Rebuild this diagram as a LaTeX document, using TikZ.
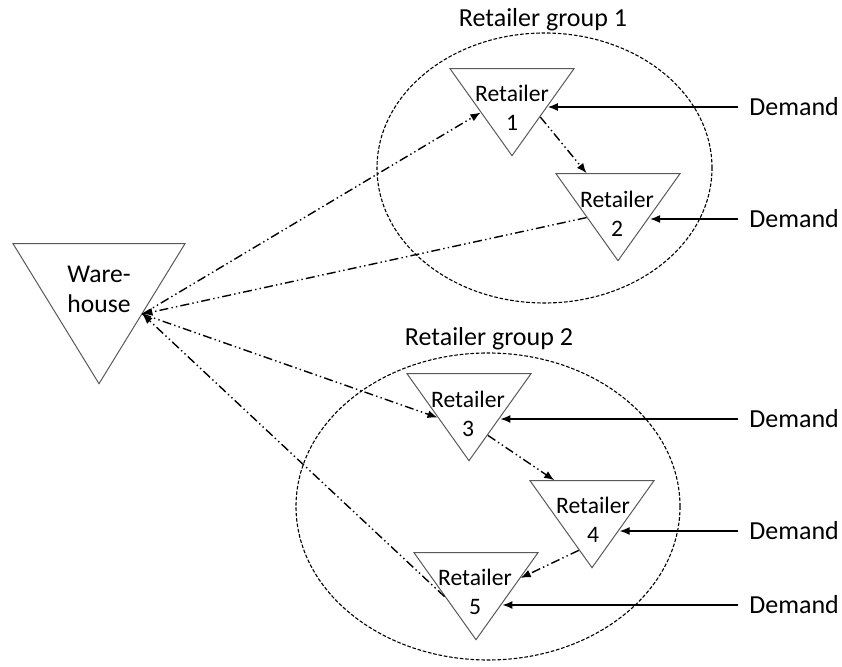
\documentclass[tikz,border=0pt]{standalone}
\usepackage{fontspec}
\setmainfont{Carlito}
\usetikzlibrary{positioning, shapes.geometric, arrows.meta, calc}
\begin{document}
\begin{tikzpicture}[x=0.5pt, y=-0.5pt]
	\tikzstyle{shop} = [isosceles triangle, isosceles triangle stretches, shape border rotate=-90, draw=black!65, line width=0.5pt, inner sep=0pt, minimum width=62pt, minimum height=43.5pt, anchor=apex]
	\tikzstyle{shoptext} = [align=center, inner sep=0pt, font=\fontsize{11.8}{14.5}\selectfont]
	\tikzstyle{group} = [ellipse, draw, dash pattern=on 1.8pt off 0.9pt, line width=0.55pt, inner sep=0pt]
	\tikzstyle{grouptext} = [font=\fontsize{13}{15}\selectfont]
	\tikzstyle{demand} = [font=\fontsize{13}{15}\selectfont, anchor=west, inner sep=5.5pt]
	\tikzstyle{flow} = [-{Latex[length=5pt, width=4pt]}, line width=0.7pt, dash pattern=on 4.5pt off 1.6pt on 0.7pt off 1.6pt on 0.7pt off 1.6pt]
	\tikzstyle{need} = [-{Latex[length=5pt, width=4pt]}, line width=0.65pt]

	\useasboundingbox (0,0) rectangle (842,667);

	\node [group, minimum width=167.5pt, minimum height=135pt] (grp1) at (544.5,168) {};
	\node [group, minimum width=192pt, minimum height=153.5pt] (grp2) at (488,506.5) {};
	\node [grouptext] (grp1name) at (543,20) {Retailer group 1};
	\node [grouptext] (grp2name) at (489,339) {Retailer group 2};

	\node [shop, minimum width=86pt, minimum height=70pt] (wh) at (99,385) {};
	\node [shop] (r1) at (512,157) {};
	\node [shop] (r2) at (618,262) {};
	\node [shop] (r3) at (469,462) {};
	\node [shop] (r4) at (592,569) {};
	\node [shop] (r5) at (476,641) {};

	\node [shoptext, font=\fontsize{12.8}{15}\selectfont] (whname) at (99,289) {Ware-\\house};
	\node [shoptext] (r1name) at (512,108) {Retailer\\1};
	\node [shoptext] (r2name) at (617,213.5) {Retailer\\2};
	\node [shoptext] (r3name) at (468,413.5) {Retailer\\3};
	\node [shoptext] (r4name) at (593,519.5) {Retailer\\4};
	\node [shoptext] (r5name) at (475,591.5) {Retailer\\5};

	\node [demand] (d1) at (738,107) {Demand};
	\node [demand] (d2) at (738,219) {Demand};
	\node [demand] (d3) at (738,419) {Demand};
	\node [demand] (d4) at (738,531) {Demand};
	\node [demand] (d5) at (738,605) {Demand};

	\coordinate (e1) at ($(r1.left corner)!0.43!(r1.apex)$);
	\coordinate (e2) at ($(r2.left corner)!0.49!(r2.apex)$);
	\coordinate (e3) at ($(r3.left corner)!0.5!(r3.apex)$);
	\coordinate (e4) at ($(r4.left corner)!0.56!(r4.apex)$);
	\coordinate (e5) at ($(r5.left corner)!0.58!(r5.apex)$);

	\draw [need] (d1.west) -- (d1.west -| e1);
	\draw [need] (d2.west) -- (d2.west -| e2);
	\draw [need] (d3.west) -- (d3.west -| e3);
	\draw [need] (d4.west) -- (d4.west -| e4);
	\draw [need] (d5.west) -- (d5.west -| e5);

	\draw [flow] (wh.left side) -- (r1.right side);
	\draw [flow] (r2.right side) -- (wh.left side);
	\draw [flow] (wh.left side) -- (r3.right side);
	\draw [flow] (r5.right side) -- (wh.left side);
	\draw [flow] ($(r1.left corner)!0.55!(r1.apex)$) -- ($(r2.right corner)!0.25!(r2.left corner)$);
	\draw [flow] ($(r3.left corner)!0.7!(r3.apex)$) -- ($(r4.right corner)!0.2!(r4.left corner)$);
	\draw [flow] ($(r4.right corner)!0.79!(r4.apex)$) -- ($(r5.left corner)!0.29!(r5.apex)$);
\end{tikzpicture}
\end{document}
